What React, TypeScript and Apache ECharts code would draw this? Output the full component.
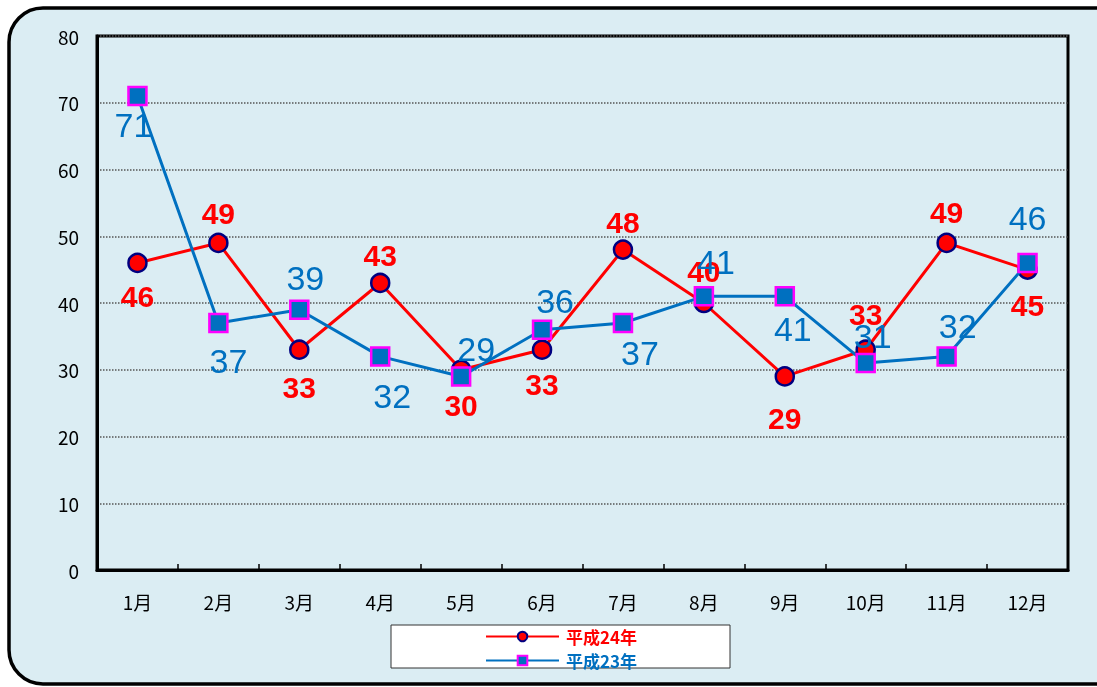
import React, { useEffect, useRef } from "react";
import * as echarts from "echarts";

const months = ["1月", "2月", "3月", "4月", "5月", "6月", "7月", "8月", "9月", "10月", "11月", "12月"];
const h24 = [46, 49, 33, 43, 30, 33, 48, 40, 29, 33, 49, 45];
const h23 = [71, 37, 39, 32, 29, 36, 37, 41, 41, 31, 32, 46];
const yTicks = [0, 10, 20, 30, 40, 50, 60, 70, 80];

// label placement (layout only)
const h24Pos = ["bottom", "top", "bottom", "top", "bottom", "bottom", "top", "top", "bottom", "top", "top", "bottom"];
const h24Dist = [8, 4, 13, 2, 10, 10, 2, 6, 17, 10, 5, 11];
const h23Pos = ["bottom", "bottom", "top", "bottom", "top", "top", "bottom", "top", "bottom", "top", "top", "top"];
const h23Off: [number, number][] = [
  [-4, 2], [10, 11], [6, 4], [12, 12], [15, 0], [13, 1], [17, 3], [12, 7], [8, 5], [7, 0], [11, 3], [0, 18],
];

const RED = "#FF0000";
const BLUE = "#0070C0";
const FONT = "'Noto Sans CJK JP', 'Noto Sans', sans-serif";

export default function App() {
  const ref = useRef<HTMLDivElement>(null);
  useEffect(() => {
    const chart = echarts.init(ref.current!, undefined, { renderer: "svg" });
    chart.setOption({
      animation: false,
      graphic: [
        {
          type: "rect",
          z: -10,
          shape: { x: 9, y: 8, width: 1120, height: 676, r: 34 },
          style: { fill: "#DBEDF3", stroke: "#000", lineWidth: 3.5 },
        },
        {
          type: "rect",
          z: -5,
          shape: { x: 391, y: 625, width: 339, height: 43 },
          style: { fill: "#FFFFFF", stroke: "#333", lineWidth: 1 },
        },
      ],
      grid: {
        left: 97,
        top: 36,
        right: 29,
        bottom: 117,
        show: true,
        borderColor: "#000",
        borderWidth: 3,
        backgroundColor: "transparent",
      },
      legend: {
        orient: "vertical",
        left: 485,
        top: 628,
        itemWidth: 73,
        itemHeight: 12,
        itemGap: 7,
        padding: 0,
        data: [
          { name: "平成24年", textStyle: { color: RED } },
          { name: "平成23年", textStyle: { color: BLUE } },
        ],
        textStyle: { fontSize: 17, lineHeight: 17, fontWeight: "bold", fontFamily: FONT, padding: [0, 0, 0, 2] },
      },
      xAxis: {
        type: "category",
        data: months,
        boundaryGap: true,
        axisLine: { lineStyle: { color: "#000", width: 3 } },
        axisTick: { show: true, inside: true, length: 6, lineStyle: { color: "#000", width: 1.5 } },
        axisLabel: { color: "#000", fontSize: 19, fontFamily: FONT, margin: 22 },
        splitLine: { show: false },
      },
      yAxis: {
        type: "value",
        min: yTicks[0],
        max: yTicks[yTicks.length - 1],
        interval: 10,
        axisLine: { show: true, lineStyle: { color: "#000", width: 3 } },
        axisTick: { show: false },
        axisLabel: { color: "#000", fontSize: 19, fontFamily: FONT, margin: 18 },
        splitLine: { show: true, lineStyle: { type: "dotted", color: "#555", width: 1.5 } },
      },
      series: [
        {
          name: "平成24年",
          type: "line",
          data: h24.map((v, i) => ({
            value: v,
            label: { position: h24Pos[i], distance: h24Dist[i] },
          })),
          symbol: "circle",
          symbolSize: 18,
          lineStyle: { color: RED, width: 3 },
          itemStyle: { color: RED, borderColor: "#000080", borderWidth: 2.5 },
          label: {
            show: true,
            color: RED,
            fontSize: 30,
            fontWeight: "bold",
            fontFamily: "'Liberation Sans', Arial, sans-serif",
          },
          z: 2,
        },
        {
          name: "平成23年",
          type: "line",
          data: h23.map((v, i) => ({
            value: v,
            label: { position: h23Pos[i], distance: 0, offset: [h23Off[i][0], h23Pos[i] === "top" ? -h23Off[i][1] : h23Off[i][1]] },
          })),
          symbol: "rect",
          symbolSize: 18,
          lineStyle: { color: BLUE, width: 3 },
          itemStyle: { color: BLUE, borderColor: "#FF00FF", borderWidth: 2.5 },
          label: {
            show: true,
            color: BLUE,
            fontSize: 34,
            fontFamily: "'Liberation Sans', Arial, sans-serif",
          },
          z: 3,
        },
      ],
    });
    return () => chart.dispose();
  }, []);
  return (
    <div
      ref={ref}
      style={{ position: "fixed", left: 0, top: 0, width: 1097, height: 687 }}
    />
  );
}
